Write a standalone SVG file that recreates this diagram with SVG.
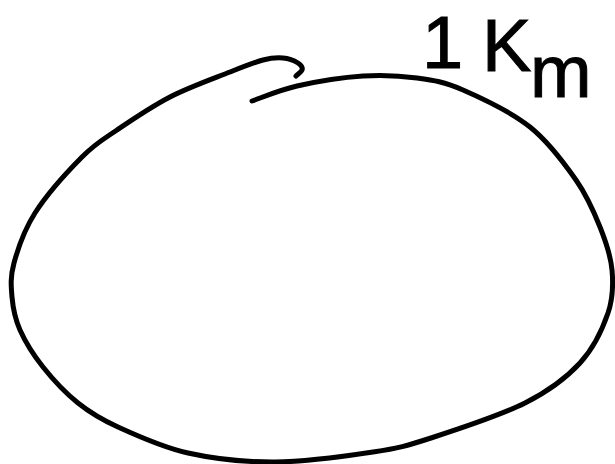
<svg xmlns="http://www.w3.org/2000/svg" width="615" height="464" viewBox="0 0 615 464">
<style>
.ink{fill:none;stroke:#000;stroke-width:5;stroke-linecap:round;stroke-linejoin:round}
.lbl{font-family:"Liberation Sans",Arial,sans-serif;font-size:74px;fill:#000;stroke:#000;stroke-width:1}
</style>
<rect width="615" height="464" fill="#fff"/>
<g id="loop">
<path class="ink" d="M252,101 C259.5,98.5 278.5,90.2 297,86 C315.5,81.8 343,77.3 363,76 C383,74.7 400.3,75.7 417,78 C433.7,80.3 444.2,81.8 463,90 C481.8,98.2 511.2,112 530,127 C548.8,142 564.3,163.3 576,180 C587.7,196.7 594,212 600,227 C606,242 610.7,255.7 612,270 C613.3,284.3 613.3,297.5 608,313 C602.7,328.5 593.8,348 580,363 C566.2,378 549.8,390.5 525,403 C500.2,415.5 456.3,429.8 431,438 C405.7,446.2 399,448 373,452 C347,456 305.8,461.8 275,462 C244.2,462.2 214.2,458.8 188,453 C161.8,447.2 136.3,435.3 118,427 C99.7,418.7 90.5,413 78,403 C65.5,393 52.7,379.2 43,367 C33.3,354.8 25.2,341.7 20,330 C14.8,318.3 13,308.2 12,297 C11,285.8 10.2,277 14,263 C17.8,249 23.7,230.7 35,213 C46.3,195.3 68.3,170.8 82,157 C95.7,143.2 102.3,140 117,130 C131.7,120 151.2,106.7 170,97 C188.8,87.3 214.5,78.2 230,72 C245.5,65.8 254.2,62.3 263,60 C271.8,57.7 277.3,57.5 283,58 C288.7,58.5 294,60.5 298,63 C301,65 303,67.5 302,70 C301.2,72 298,74 296,76"/>
</g>
<g id="label">
<text class="lbl"><tspan x="422" y="68">1</tspan><tspan x="482" y="71">K</tspan><tspan x="530" y="97">m</tspan></text>
</g>
<g id="connectors"/>
</svg>
